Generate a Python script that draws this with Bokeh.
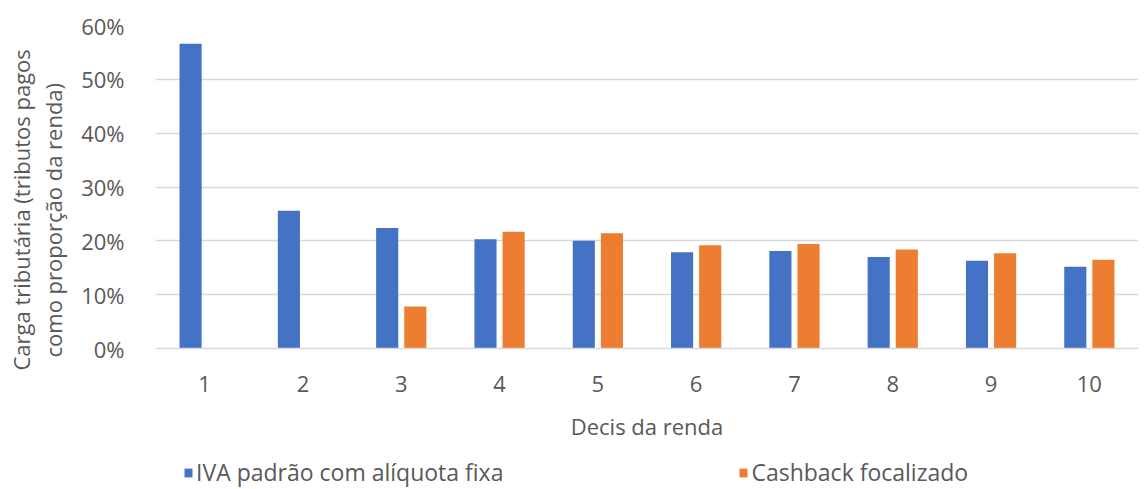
from bokeh.plotting import figure
from bokeh.layouts import column
from bokeh.models import (FactorRange, FixedTicker, NumeralTickFormatter, Legend, LegendItem,
                          Title, ColumnDataSource)
from bokeh.transform import dodge
from bokeh.embed import file_html
from bokeh.resources import INLINE

decis = ["1", "2", "3", "4", "5", "6", "7", "8", "9", "10"]
iva_padrao = [0.566, 0.256, 0.224, 0.203, 0.200, 0.179, 0.181, 0.170, 0.163, 0.152]
cashback = [0.0, 0.0, 0.078, 0.217, 0.214, 0.192, 0.194, 0.184, 0.177, 0.165]
series_names = ["IVA padrão com alíquota fixa", "Cashback focalizado"]
y_ticks = [0.0, 0.1, 0.2, 0.3, 0.4, 0.5, 0.6]
y_title_lines = ["Carga tributária (tributos pagos", "como proporção da renda)"]
x_title = "Decis da renda"

FONT = "Open Sans"
FS = "22px"
TXT = "#595959"
BLUE = "#4472C4"
ORANGE = "#ED7D31"
GRID = "#d9d9d9"

src = ColumnDataSource(dict(decis=decis, iva=iva_padrao, cash=cashback))

xr = FactorRange(*decis, range_padding=0)
p = figure(width=1140, height=454, x_range=xr,
           y_range=(0, 0.6), output_backend="svg", toolbar_location=None,
           min_border_left=155, min_border_right=2, min_border_top=25, min_border_bottom=106)
p.outline_line_color = None

r1 = p.vbar(x=dodge("decis", -0.143, range=xr), top="iva", width=0.225, source=src,
            fill_color=BLUE, line_color=None)
r2 = p.vbar(x=dodge("decis", 0.143, range=xr), top="cash", width=0.225, source=src,
            fill_color=ORANGE, line_color=None)

p.yaxis.ticker = FixedTicker(ticks=y_ticks)
p.yaxis.formatter = NumeralTickFormatter(format="0%")
p.yaxis.axis_line_color = None
p.yaxis.major_tick_line_color = None
p.yaxis.minor_tick_line_color = None
p.yaxis.major_label_standoff = 25
p.yaxis.major_label_text_font = FONT
p.yaxis.major_label_text_font_size = FS
p.yaxis.major_label_text_color = TXT
# tiny blank axis label only to leave a gap between tick labels and the title lines
p.yaxis.axis_label = " "
p.yaxis.axis_label_text_font_size = "1px"
p.yaxis.axis_label_standoff = 7

p.xaxis.axis_line_color = GRID
p.xaxis.axis_line_width = 1.5
p.xaxis.major_tick_line_color = None
p.xaxis.minor_tick_line_color = None
p.xaxis.major_label_standoff = 21
p.xaxis.major_label_text_font = FONT
p.xaxis.major_label_text_font_size = FS
p.xaxis.major_label_text_color = TXT
p.xaxis.axis_label = x_title
p.xaxis.axis_label_text_font = FONT
p.xaxis.axis_label_text_font_size = FS
p.xaxis.axis_label_text_font_style = "normal"
p.xaxis.axis_label_text_color = TXT
p.xaxis.axis_label_standoff = 16

p.xgrid.grid_line_color = None
p.ygrid.grid_line_color = GRID
p.ygrid.grid_line_width = 1.5

offsets = [-22, -9]
standoffs = [0, 0]
for line, off, so in reversed(list(zip(y_title_lines, offsets, standoffs))):
    t = Title(text=line, align="left", text_font=FONT, text_font_size=FS,
              text_font_style="normal", text_color=TXT, offset=off, standoff=so)
    p.add_layout(t, "left")

# legend strip below the chart (bars drawn here fall outside its y-range; only swatches show)
lf = figure(width=1140, height=34, x_range=xr, y_range=(1, 2), output_backend="svg",
            toolbar_location=None, x_axis_type=None, y_axis_type=None,
            min_border_left=0, min_border_right=0, min_border_top=0, min_border_bottom=0)
lf.outline_line_color = None
lf.xgrid.visible = False
lf.ygrid.visible = False
l1 = lf.vbar(x="decis", top="iva", width=0.225, source=src, fill_color=BLUE, line_color=None)
l2 = lf.vbar(x="decis", top="cash", width=0.225, source=src, fill_color=ORANGE, line_color=None)

legend = Legend(items=[LegendItem(label=series_names[0], renderers=[l1]),
                       LegendItem(label=series_names[1], renderers=[l2])],
                orientation="horizontal", location=(28, 0),
                glyph_width=10, glyph_height=11, label_standoff=3,
                spacing=235, padding=0, margin=0, border_line_color=None,
                background_fill_alpha=0,
                label_text_font=FONT, label_text_font_size="23px", label_text_color=TXT,
                label_height=22)
lf.add_layout(legend, "center")

layout = column(p, lf, spacing=0)
open("out.html", "w").write(file_html(layout, INLINE))
